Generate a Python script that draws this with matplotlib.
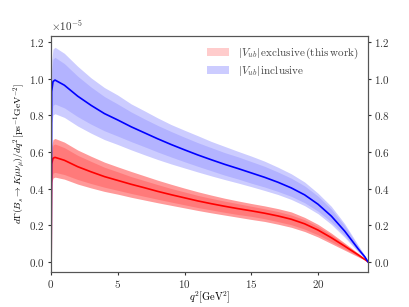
import numpy as np
import matplotlib
matplotlib.use("Agg")
import matplotlib.pyplot as plt
from matplotlib.patches import Patch

plt.rcParams['font.family'] = 'serif'
plt.rcParams['font.serif'] = ['cmr10']
plt.rcParams['mathtext.fontset'] = 'cm'
plt.rcParams['axes.formatter.use_mathtext'] = True
plt.rcParams['font.size'] = 8

# q^2 grid in GeV^2, rates in units of 1e-5 ps^-1 GeV^-2
q2 = [0.0112, 0.05, 0.15, 0.3, 1, 2, 3, 4, 5, 6, 7, 8, 9, 10, 11, 12, 13, 14,
      15, 16, 17, 18, 19, 20, 21, 22, 23, 23.5, 23.75]

# inclusive |Vub| (blue)
incl_c = [0, 0.93, 0.985, 0.993, 0.965, 0.905, 0.855, 0.81, 0.775, 0.738, 0.705, 0.672,
          0.641, 0.612, 0.584, 0.558, 0.533, 0.51, 0.486, 0.462, 0.435, 0.404, 0.366,
          0.315, 0.25, 0.168, 0.072, 0.028, 0]
incl_outer_hi = [0, 1.10, 1.162, 1.172, 1.139, 1.068, 1.005, 0.952, 0.911, 0.863, 0.825,
                 0.786, 0.750, 0.719, 0.689, 0.658, 0.631, 0.604, 0.578, 0.550, 0.517,
                 0.481, 0.436, 0.375, 0.303, 0.208, 0.092, 0.036, 0]
incl_outer_lo = [0, 0.758, 0.803, 0.809, 0.789, 0.742, 0.703, 0.668, 0.641, 0.612, 0.585,
                 0.559, 0.535, 0.513, 0.491, 0.470, 0.450, 0.431, 0.411, 0.390, 0.368,
                 0.341, 0.307, 0.263, 0.205, 0.134, 0.055, 0.021, 0]
incl_inner_hi = [0, 1.046, 1.108, 1.117, 1.083, 1.014, 0.955, 0.903, 0.862, 0.819, 0.781,
                 0.745, 0.712, 0.681, 0.651, 0.624, 0.597, 0.574, 0.548, 0.522, 0.491,
                 0.457, 0.415, 0.359, 0.288, 0.197, 0.086, 0.034, 0]
incl_inner_lo = [0, 0.807, 0.855, 0.862, 0.841, 0.793, 0.752, 0.716, 0.687, 0.657, 0.629,
                 0.600, 0.573, 0.547, 0.522, 0.498, 0.474, 0.453, 0.430, 0.409, 0.385,
                 0.358, 0.323, 0.277, 0.218, 0.144, 0.060, 0.023, 0]

# exclusive |Vub| (red)
excl_c = [0, 0.535, 0.566, 0.571, 0.555, 0.520, 0.492, 0.466, 0.445, 0.424, 0.405, 0.385,
          0.367, 0.350, 0.333, 0.318, 0.304, 0.291, 0.279, 0.266, 0.251, 0.233, 0.208,
          0.174, 0.132, 0.086, 0.039, 0.014, 0]
excl_outer_hi = [0, 0.631, 0.668, 0.674, 0.654, 0.611, 0.577, 0.545, 0.519, 0.494, 0.470,
                 0.446, 0.424, 0.403, 0.383, 0.365, 0.348, 0.333, 0.319, 0.306, 0.291,
                 0.273, 0.243, 0.205, 0.157, 0.103, 0.048, 0.017, 0]
excl_outer_lo = [0, 0.433, 0.458, 0.463, 0.452, 0.425, 0.404, 0.385, 0.370, 0.353, 0.338,
                 0.323, 0.309, 0.295, 0.281, 0.268, 0.256, 0.244, 0.232, 0.221, 0.206,
                 0.189, 0.166, 0.136, 0.100, 0.064, 0.028, 0.010, 0]
excl_inner_hi = [0, 0.603, 0.638, 0.644, 0.624, 0.582, 0.549, 0.517, 0.492, 0.466, 0.444,
                 0.422, 0.401, 0.382, 0.363, 0.347, 0.332, 0.318, 0.304, 0.290, 0.275,
                 0.256, 0.230, 0.193, 0.148, 0.097, 0.044, 0.016, 0]
excl_inner_lo = [0, 0.458, 0.485, 0.489, 0.477, 0.450, 0.428, 0.408, 0.391, 0.374, 0.358,
                 0.342, 0.327, 0.312, 0.297, 0.284, 0.271, 0.259, 0.249, 0.236, 0.220,
                 0.203, 0.179, 0.148, 0.110, 0.071, 0.031, 0.011, 0]

labels = [r'$|V_{ub}|\,\mathrm{exclusive\,(this\,work)}$', r'$|V_{ub}|\,\mathrm{inclusive}$']

scale = 1e-5
s = lambda v: np.array(v) * scale

fig = plt.figure(figsize=(4.09, 3.07), dpi=100)
ax = fig.add_axes([0.1247, 0.114, 0.7753, 0.769])

# exclusive bands
ax.fill_between(q2, s(excl_outer_lo), s(excl_outer_hi), color='red', alpha=0.4, lw=0)
ax.fill_between(q2, s(excl_inner_lo), s(excl_inner_hi), color='red', alpha=0.2, lw=0)
ax.plot(q2, s(excl_c), color='red', lw=1.2)

# inclusive bands
ax.fill_between(q2, s(incl_outer_lo), s(incl_outer_hi), color='blue', alpha=0.2, lw=0)
ax.fill_between(q2, s(incl_inner_lo), s(incl_inner_hi), color='blue', alpha=0.12, lw=0)
ax.plot(q2, s(incl_c), color='blue', lw=1.2)

ylo, yhi = -0.055, 1.234
ax.set_xlim(0, 23.75)
ax.set_ylim(ylo * scale, yhi * scale)
ax.set_xticks([0, 5, 10, 15, 20])
ax.set_yticks(np.array([0, 0.2, 0.4, 0.6, 0.8, 1.0, 1.2]) * scale)
ax.set_xlabel(r'$q^2[\mathrm{GeV}^2]$', labelpad=0, fontsize=7.5)
ax.set_ylabel(r'$d\Gamma(B_s\to K\mu\nu_\mu)/dq^2\,[\mathrm{ps}^{-1}\mathrm{GeV}^{-2}]$',
              labelpad=1.5, fontsize=7)

ax2 = ax.twinx()
ax2.set_ylim(ylo, yhi)
ax2.set_yticks([0, 0.2, 0.4, 0.6, 0.8, 1.0, 1.2])

for a in (ax, ax2):
    for sp in a.spines.values():
        sp.set_color('#555555')
    a.tick_params(colors='#333333', labelcolor='#333333', length=2.3, pad=2.2)

handles = [Patch(color='red', alpha=0.2, lw=0), Patch(color='blue', alpha=0.2, lw=0)]
ax.legend(handles, labels, loc='upper right', frameon=False, fontsize=8,
          labelcolor='#444444', handlelength=2.0, labelspacing=0.25)

fig.savefig('out.png', dpi=100)
